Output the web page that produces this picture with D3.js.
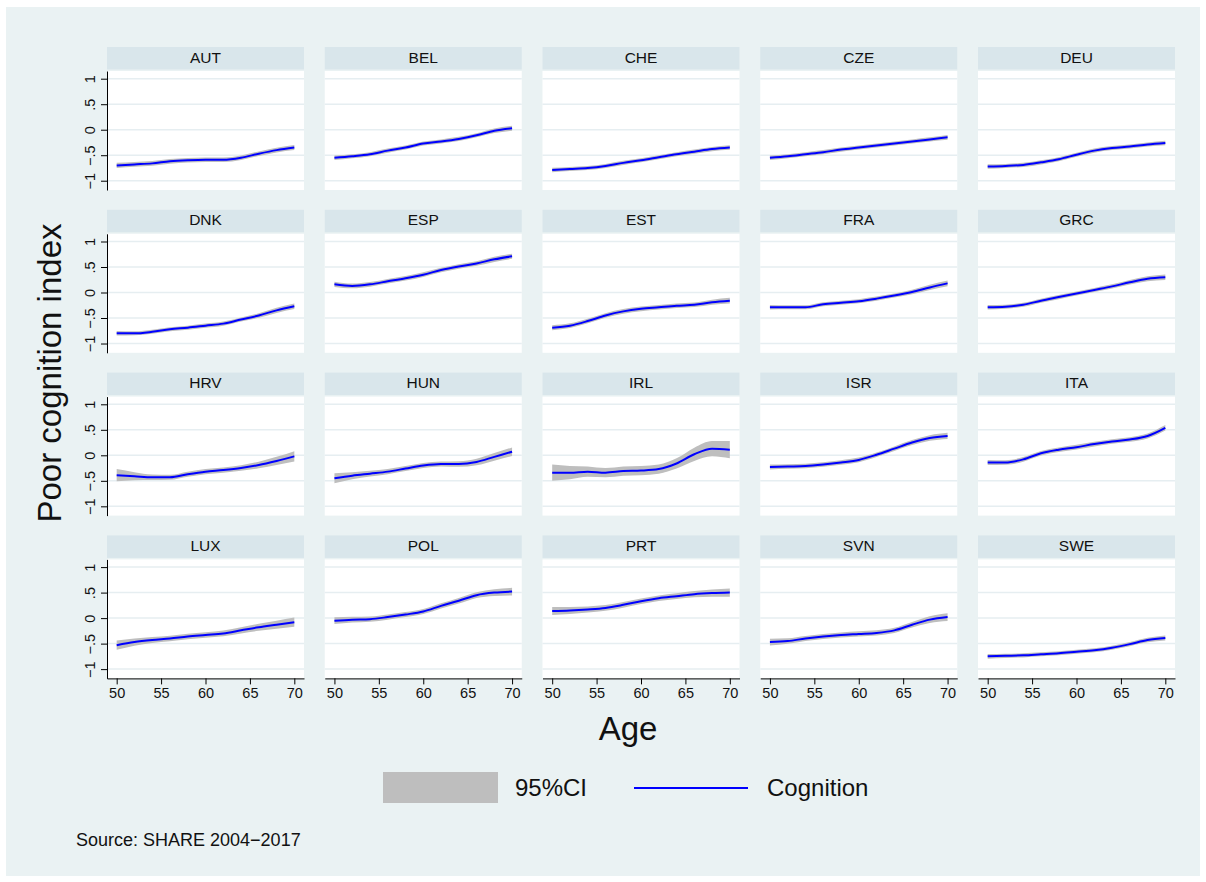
<!DOCTYPE html>
<html>
<head>
<meta charset="utf-8">
<script src="https://cdn.jsdelivr.net/npm/d3@7"></script>
<style>
    body { margin: 0; background: #ffffff; }
    svg { display: block; font-family: "Liberation Sans", Arial, Helvetica, sans-serif; }
</style>
</head>
<body>
<svg id="chart" width="1206" height="882"></svg>
<script>
// panel order (by country)
var countries = ["AUT", "BEL", "CHE", "CZE", "DEU",
                 "DNK", "ESP", "EST", "FRA", "GRC",
                 "HRV", "HUN", "IRL", "ISR", "ITA",
                 "LUX", "POL", "PRT", "SVN", "SWE"];

var ages = [50, 52, 54, 56, 58, 60, 62, 64, 66, 68, 70];

// poor cognition index, one row per country
var cognition = [
    [-0.70, -0.68, -0.66, -0.62, -0.60, -0.59, -0.59, -0.55, -0.47, -0.40, -0.35],
    [-0.55, -0.52, -0.48, -0.41, -0.35, -0.27, -0.23, -0.18, -0.11, -0.02, 0.03],
    [-0.79, -0.77, -0.75, -0.71, -0.65, -0.60, -0.54, -0.48, -0.43, -0.38, -0.35],
    [-0.55, -0.52, -0.48, -0.44, -0.39, -0.35, -0.31, -0.27, -0.23, -0.19, -0.15],
    [-0.72, -0.71, -0.69, -0.64, -0.58, -0.49, -0.41, -0.36, -0.33, -0.29, -0.26],
    [-0.80, -0.80, -0.77, -0.72, -0.69, -0.65, -0.61, -0.53, -0.45, -0.35, -0.27],
    [0.16, 0.13, 0.16, 0.22, 0.28, 0.35, 0.44, 0.51, 0.57, 0.65, 0.71],
    [-0.69, -0.65, -0.56, -0.45, -0.37, -0.32, -0.29, -0.26, -0.24, -0.19, -0.16],
    [-0.29, -0.29, -0.29, -0.23, -0.20, -0.17, -0.12, -0.06, 0.01, 0.10, 0.18],
    [-0.29, -0.28, -0.24, -0.16, -0.09, -0.02, 0.05, 0.12, 0.20, 0.27, 0.30],
    [-0.39, -0.41, -0.43, -0.43, -0.37, -0.32, -0.29, -0.25, -0.19, -0.11, -0.02],
    [-0.45, -0.40, -0.36, -0.32, -0.26, -0.20, -0.17, -0.17, -0.13, -0.03, 0.07],
    [-0.34, -0.34, -0.32, -0.34, -0.31, -0.30, -0.27, -0.16, 0.02, 0.13, 0.11],
    [-0.23, -0.22, -0.21, -0.18, -0.14, -0.09, 0.01, 0.13, 0.25, 0.34, 0.38],
    [-0.14, -0.14, -0.08, 0.04, 0.11, 0.16, 0.22, 0.27, 0.31, 0.38, 0.54],
    [-0.53, -0.47, -0.43, -0.40, -0.36, -0.33, -0.30, -0.24, -0.18, -0.13, -0.08],
    [-0.05, -0.03, -0.02, 0.02, 0.07, 0.13, 0.24, 0.34, 0.45, 0.50, 0.52],
    [0.14, 0.15, 0.17, 0.20, 0.26, 0.33, 0.39, 0.43, 0.47, 0.49, 0.50],
    [-0.47, -0.45, -0.40, -0.36, -0.33, -0.31, -0.29, -0.24, -0.13, -0.03, 0.02],
    [-0.75, -0.74, -0.73, -0.71, -0.69, -0.66, -0.63, -0.58, -0.51, -0.43, -0.39]
];

// half width of the 95% CI, same layout as cognition
var ciHalfWidth = [
    [0.05, 0.045, 0.045, 0.045, 0.045, 0.045, 0.045, 0.045, 0.045, 0.045, 0.05],
    [0.045, 0.04, 0.04, 0.04, 0.04, 0.04, 0.04, 0.04, 0.04, 0.045, 0.05],
    [0.045, 0.04, 0.04, 0.04, 0.04, 0.04, 0.04, 0.04, 0.04, 0.04, 0.045],
    [0.045, 0.04, 0.04, 0.04, 0.04, 0.04, 0.04, 0.04, 0.04, 0.04, 0.045],
    [0.045, 0.04, 0.04, 0.04, 0.04, 0.04, 0.04, 0.04, 0.04, 0.04, 0.045],
    [0.045, 0.04, 0.04, 0.04, 0.04, 0.04, 0.04, 0.04, 0.045, 0.05, 0.055],
    [0.05, 0.045, 0.045, 0.045, 0.045, 0.045, 0.045, 0.045, 0.045, 0.05, 0.05],
    [0.05, 0.045, 0.045, 0.045, 0.045, 0.045, 0.045, 0.045, 0.045, 0.05, 0.055],
    [0.045, 0.04, 0.04, 0.04, 0.04, 0.04, 0.04, 0.04, 0.045, 0.05, 0.055],
    [0.045, 0.04, 0.04, 0.04, 0.04, 0.04, 0.04, 0.04, 0.045, 0.05, 0.055],
    [0.12, 0.08, 0.055, 0.05, 0.05, 0.05, 0.05, 0.055, 0.065, 0.08, 0.10],
    [0.10, 0.07, 0.055, 0.05, 0.05, 0.05, 0.05, 0.055, 0.065, 0.075, 0.085],
    [0.16, 0.13, 0.10, 0.09, 0.09, 0.09, 0.09, 0.10, 0.13, 0.15, 0.17],
    [0.05, 0.045, 0.045, 0.045, 0.045, 0.045, 0.045, 0.045, 0.05, 0.055, 0.06],
    [0.05, 0.045, 0.045, 0.045, 0.045, 0.045, 0.045, 0.045, 0.045, 0.05, 0.055],
    [0.09, 0.07, 0.06, 0.055, 0.055, 0.055, 0.055, 0.06, 0.07, 0.08, 0.09],
    [0.065, 0.055, 0.05, 0.05, 0.05, 0.05, 0.05, 0.055, 0.055, 0.065, 0.075],
    [0.08, 0.07, 0.06, 0.055, 0.055, 0.055, 0.055, 0.055, 0.06, 0.07, 0.08],
    [0.065, 0.055, 0.05, 0.05, 0.05, 0.05, 0.05, 0.05, 0.055, 0.065, 0.075],
    [0.045, 0.04, 0.04, 0.04, 0.04, 0.04, 0.04, 0.04, 0.04, 0.045, 0.05]
];

// axis ticks
var xTicks = [50, 55, 60, 65, 70];
var yTicks = [1, 0.5, 0, -0.5, -1];
var yTickLabels = ["1", ".5", "0", "\u2212.5", "\u22121"];

!function () {
    var svg = d3.select("#chart"),
        ncol = 5,
        panelW = 197,
        panelH = 119,
        colStep = 217.75,
        rowStep = 162.8,
        left0 = 107,
        top0 = 71;

    // graph region background
    svg.append("rect")
        .attr("x", 6).attr("y", 7)
        .attr("width", 1194).attr("height", 869)
        .style("fill", "#eaf2f3");

    var x = d3.scaleLinear().domain([48.91, 71.09]).range([0, panelW]),
        y = d3.scaleLinear().domain([-1.182, 1.151]).range([panelH, 0]);

    var area = d3.area()
        .x(function (d) { return x(d.age); })
        .y0(function (d) { return y(d.lo); })
        .y1(function (d) { return y(d.hi); })
        .curve(d3.curveMonotoneX);

    var line = d3.line()
        .x(function (d) { return x(d.age); })
        .y(function (d) { return y(d.v); })
        .curve(d3.curveMonotoneX);

    var nrow = Math.ceil(countries.length / ncol);

    countries.forEach(function (c, i) {
        var col = i % ncol,
            row = Math.floor(i / ncol),
            px = left0 + col * colStep,
            py = top0 + row * rowStep;

        var pts = ages.map(function (a, j) {
            return {
                age: a,
                v: cognition[i][j],
                lo: cognition[i][j] - ciHalfWidth[i][j],
                hi: cognition[i][j] + ciHalfWidth[i][j]
            };
        });

        // strip title
        svg.append("rect")
            .attr("x", px).attr("y", py - 24)
            .attr("width", panelW).attr("height", 22.5)
            .style("fill", "#d9e6eb");
        svg.append("text")
            .attr("x", px + panelW / 2).attr("y", py - 8.5)
            .attr("text-anchor", "middle")
            .style("font-size", "15.5px")
            .style("fill", "#111")
            .text(c);

        var g = svg.append("g")
            .attr("transform", "translate(" + px + "," + py + ")");

        g.append("rect")
            .attr("width", panelW).attr("height", panelH)
            .style("fill", "#ffffff");

        // grid lines
        g.selectAll(".grid")
            .data(yTicks)
            .enter().append("line")
            .attr("class", "grid")
            .attr("x1", 0).attr("x2", panelW)
            .attr("y1", function (d) { return y(d); })
            .attr("y2", function (d) { return y(d); })
            .style("stroke", "#e6eef1")
            .style("stroke-width", 1.5);

        g.append("path")
            .datum(pts)
            .attr("d", area)
            .style("fill", "#bebebe");

        g.append("path")
            .datum(pts)
            .attr("d", line)
            .style("fill", "none")
            .style("stroke", "#0000ff")
            .style("stroke-width", 2);

        // y axis on first column only
        if (col === 0) {
            var ya = g.append("g")
                .call(d3.axisLeft(y).tickValues(yTicks)
                    .tickSize(6).tickSizeOuter(0)
                    .tickFormat(function (d, k) { return yTickLabels[k]; }));
            ya.selectAll("text")
                .attr("x", null).attr("dy", null)
                .attr("transform", "translate(-12,0) rotate(-90)")
                .attr("text-anchor", "middle")
                .style("font-size", "14.5px")
                .style("font-family", "inherit")
                .style("fill", "#111");
        }

        // x axis on the bottom row only
        if (row === nrow - 1) {
            var xa = g.append("g")
                .attr("transform", "translate(0," + panelH + ")")
                .call(d3.axisBottom(x).tickValues(xTicks)
                    .tickSize(6).tickSizeOuter(0).tickPadding(3)
                    .tickFormat(d3.format("d")));
            xa.selectAll("text")
                .style("font-size", "14.5px")
                .style("font-family", "inherit")
                .style("fill", "#111");
        }
    });

    // axis titles
    svg.append("text")
        .attr("transform", "translate(61,373) rotate(-90)")
        .attr("text-anchor", "middle")
        .style("font-size", "33px")
        .style("fill", "#111")
        .text("Poor cognition index");

    svg.append("text")
        .attr("x", 628).attr("y", 740)
        .attr("text-anchor", "middle")
        .style("font-size", "33px")
        .style("fill", "#111")
        .text("Age");

    // legend
    svg.append("rect")
        .attr("x", 383).attr("y", 772)
        .attr("width", 115).attr("height", 31)
        .style("fill", "#bebebe");
    svg.append("text")
        .attr("x", 515).attr("y", 796)
        .style("font-size", "24px")
        .style("fill", "#111")
        .text("95%CI");
    svg.append("line")
        .attr("x1", 634).attr("x2", 748)
        .attr("y1", 788).attr("y2", 788)
        .style("stroke", "#0000ff")
        .style("stroke-width", 2);
    svg.append("text")
        .attr("x", 767).attr("y", 796)
        .style("font-size", "24px")
        .style("fill", "#111")
        .text("Cognition");

    // note
    svg.append("text")
        .attr("x", 76).attr("y", 846)
        .style("font-size", "18px")
        .style("fill", "#111")
        .text("Source: SHARE 2004\u22122017");
}();
</script>
</body>
</html>
